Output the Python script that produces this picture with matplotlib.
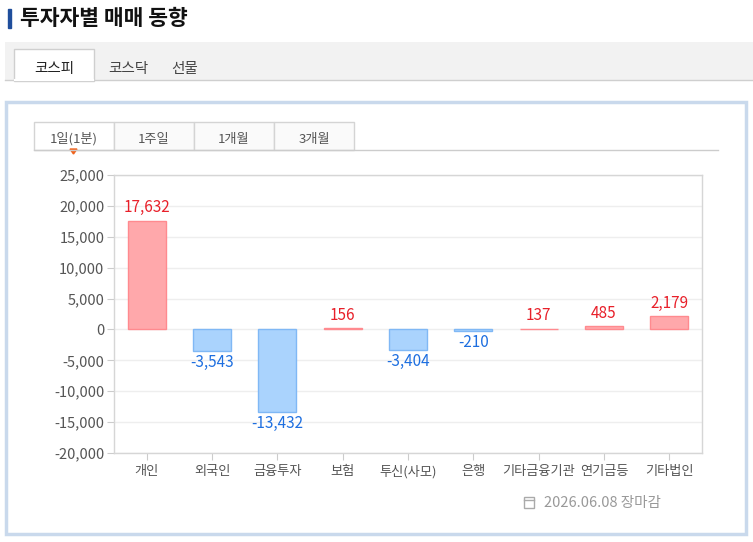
import numpy as np
import matplotlib
matplotlib.use('Agg')
import matplotlib.pyplot as plt
from matplotlib.patches import Rectangle, Polygon
from matplotlib.ticker import FuncFormatter

plt.rcParams['font.family'] = ['Noto Sans CJK KR', 'DejaVu Sans']
plt.rcParams['axes.unicode_minus'] = False

# ========== 데이터 ==========
categories = ['개인', '외국인', '금융투자', '보험', '투신(사모)', '은행', '기타금융기관', '연기금등', '기타법인']
values = [17632, -3543, -13432, 156, -3404, -210, 137, 485, 2179]
y_ticks = [25000, 20000, 15000, 10000, 5000, 0, -5000, -10000, -15000, -20000]
market_tabs = ['코스피', '코스닥', '선물']
period_tabs = ['1일(1분)', '1주일', '1개월', '3개월']
date_text = '2026.06.08 장마감'

W, H = 753, 542
fig = plt.figure(figsize=(W / 100, H / 100), dpi=100)
fig.patch.set_facecolor('white')

# 픽셀 좌표용 배경 축
bg = fig.add_axes([0, 0, 1, 1], zorder=0)
bg.set_xlim(0, W)
bg.set_ylim(H, 0)
bg.axis('off')

# 제목
bg.add_patch(Rectangle((8, 9), 3, 19, color='#1f4e9c'))
bg.text(20, 18.5, '투자자별 매매 동향', fontsize=15.5, fontweight='bold', color='#111111',
        ha='left', va='center')

# 시장 탭
bg.add_patch(Rectangle((5, 42), W - 5, 38, facecolor='#f2f2f2', edgecolor='none'))
bg.plot([5, W], [80, 80], color='#cfcfcf', lw=1)
bg.add_patch(Rectangle((14, 49), 80, 32, facecolor='white', edgecolor='#cfcfcf', lw=1))
bg.plot([15, 93], [80, 80], color='white', lw=1.5)
for label, x in zip(market_tabs, [54, 128, 185]):
    bg.text(x, 69, label, fontsize=10.5, color='#222222' if label == '코스피' else '#444444',
            ha='center', va='center')

# 패널 테두리
bg.add_patch(Rectangle((6.5, 101.5), 740, 432, facecolor='white', edgecolor='#c9d9ec', lw=2.5))

# 기간 탭
for i, label in enumerate(period_tabs):
    x0 = 34 + i * 80
    bg.add_patch(Rectangle((x0, 122), 80, 28, facecolor='#fafafa' if i else 'white',
                           edgecolor='#d4d4d4', lw=1))
    bg.text(x0 + 40, 139, label, fontsize=9.5, color='#555555', ha='center', va='center')
bg.plot([34, 718], [150, 150], color='#cccccc', lw=1)
bg.add_patch(Polygon([[70, 149], [77, 149], [73.5, 154]], closed=True, color='#f0641e'))

# 날짜 표시
bg.add_patch(Rectangle((524, 497), 10, 11, facecolor='white', edgecolor='#aaaaaa', lw=1))
bg.plot([524, 534], [500, 500], color='#aaaaaa', lw=1)
bg.text(544, 503, date_text, fontsize=10.5, color='#999999', ha='left', va='center')

# ========== 차트 ==========
ax = fig.add_axes([114 / W, (H - 453) / H, 588 / W, 278 / H], zorder=2)
ax.set_facecolor('none')

x = np.arange(len(categories))
pos_face, pos_edge, pos_text = '#ffa8ab', '#ff8a8f', '#e8202a'
neg_face, neg_edge, neg_text = '#aad3fd', '#80b8f5', '#1e6fe0'
faces = [pos_face if v >= 0 else neg_face for v in values]
edges = [pos_edge if v >= 0 else neg_edge for v in values]
ax.bar(x, values, width=0.58, color=faces, edgecolor=edges, linewidth=1, zorder=3)

for xi, v in zip(x, values):
    if v >= 0:
        ax.annotate(f'{v:,}', (xi, v), xytext=(0, 3), textcoords='offset points',
                    ha='center', va='bottom', fontsize=11, color=pos_text)
    else:
        ax.annotate(f'{v:,}', (xi, v), xytext=(0, -2), textcoords='offset points',
                    ha='center', va='top', fontsize=11, color=neg_text)

ax.set_xlim(-0.5, len(categories) - 0.5)
ax.set_ylim(min(y_ticks), max(y_ticks))
ax.set_yticks(y_ticks)
ax.yaxis.set_major_formatter(FuncFormatter(lambda v, p: f'{int(v):,}'))
ax.set_xticks(x)
ax.set_xticklabels(categories)
ax.tick_params(axis='y', length=5, color='#cccccc', labelsize=10.5, labelcolor='#555555', pad=2)
ax.tick_params(axis='x', length=5, color='#cccccc', labelsize=9.5, labelcolor='#555555', pad=4)
ax.grid(axis='y', color='#eeeeee', lw=1, zorder=0)
ax.set_axisbelow(True)
for side in ['top', 'right', 'left', 'bottom']:
    ax.spines[side].set_color('#d6d6d6')
    ax.spines[side].set_linewidth(1)

plt.savefig('out.png', dpi=100)
